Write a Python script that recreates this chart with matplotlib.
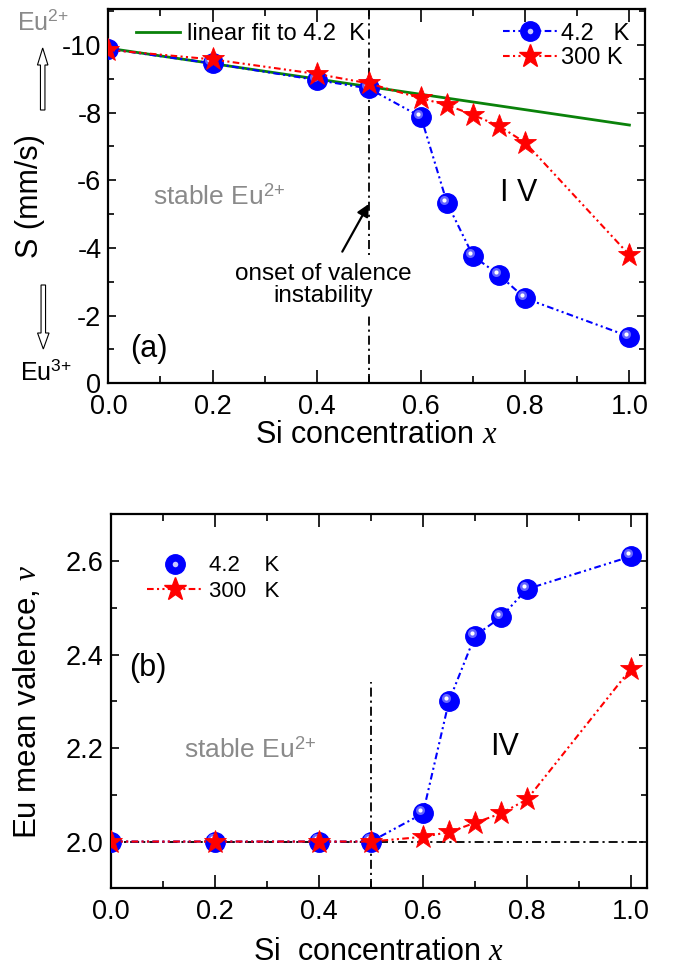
import numpy as np
import matplotlib
matplotlib.use("Agg")
import matplotlib.pyplot as plt
from matplotlib.lines import Line2D
from matplotlib.patches import FancyArrow
from matplotlib.transforms import offset_copy
from matplotlib.legend_handler import HandlerTuple
from matplotlib.ticker import MultipleLocator

plt.rcParams['font.family'] = ['Liberation Sans', 'DejaVu Sans']
plt.rcParams['mathtext.fontset'] = 'custom'
plt.rcParams['mathtext.rm'] = 'Liberation Sans'
plt.rcParams['mathtext.it'] = 'Liberation Serif:italic'
plt.rcParams['axes.unicode_minus'] = False

# Si concentration
x_si = [0.0, 0.2, 0.4, 0.5, 0.6, 0.65, 0.7, 0.75, 0.8, 1.0]

# isomer shift S (mm/s)
shift_4k = [-9.88, -9.45, -8.96, -8.71, -7.87, -5.33, -3.76, -3.20, -2.51, -1.38]
shift_300k = [-9.85, -9.57, -9.14, -8.86, -8.42, -8.22, -7.93, -7.60, -7.11, -3.79]
fit_x = [0.0, 1.0]
fit_shift = [-9.90, -7.63]

# Eu mean valence
val_4k = [2.0, 2.0, 2.0, 2.0, 2.06, 2.30, 2.44, 2.48, 2.54, 2.61]
val_300k = [2.0, 2.0, 2.0, 2.0, 2.01, 2.02, 2.04, 2.06, 2.09, 2.37]

x_onset = 0.5
val_stable = 2.0

blue = '#0000ff'
red = '#ff0000'
green = '#0a820a'
grey = '#8a8a8a'
dd_dash = (3.2, 1.6, 1.0, 1.6, 1.0, 1.6)
ref_dash = (5, 2.2, 1.2, 2.2)

eu2 = r'Eu$^{2{+}}$'
eu3 = r'Eu$^{3{+}}$'

fig = plt.figure(figsize=(6.8, 9.67), dpi=100)
ax1 = fig.add_axes([0.1593, 0.6036, 0.7893, 0.3868])
ax2 = fig.add_axes([0.1628, 0.0814, 0.7882, 0.3868])


def style_axes(ax):
    for s in ax.spines.values():
        s.set_linewidth(1.6)
    ax.tick_params(which='both', direction='in', top=True, right=True,
                   labelsize=19.5, width=1.2)
    ax.tick_params(axis='x', which='major', length=9.5, pad=8)
    ax.tick_params(axis='x', which='minor', length=5)
    ax.tick_params(axis='y', which='major', length=5.5, pad=5)
    ax.tick_params(axis='y', which='minor', length=4)
    ax.xaxis.set_major_locator(MultipleLocator(0.2))
    ax.xaxis.set_minor_locator(MultipleLocator(0.1))
    ax.set_xlim(0, 1.03)


def spheres(ax, x, y):
    ln, = ax.plot(x, y, color=blue, lw=1.5, dashes=dd_dash, marker='o',
                  ms=14, mfc=blue, mec=blue, zorder=3)
    tr = offset_copy(ax.transData, fig=fig, x=-2.2, y=2.2, units='points')
    ax.plot(x, y, ls='none', marker='o', ms=6.5, mfc='#7f7fff', mec='none',
            alpha=0.8, transform=tr, zorder=3.1)
    ax.plot(x, y, ls='none', marker='o', ms=3, mfc='white', mec='none',
            transform=tr, zorder=3.2)
    return ln


def stars(ax, x, y):
    ln, = ax.plot(x, y, color=red, lw=1.5, dashes=dd_dash, marker='*',
                  ms=17, mfc=red, mec=red, mew=0.6, zorder=4)
    return ln


def sphere_handle(with_line):
    if with_line:
        body = Line2D([], [], color=blue, lw=1.5, dashes=dd_dash,
                      marker='o', ms=14, mfc=blue, mec=blue)
    else:
        body = Line2D([], [], ls='none', marker='o', ms=14, mfc=blue, mec=blue)
    shine = Line2D([], [], ls='none', marker='o', ms=4, mfc='#c8c8ff', mec='none')
    return (body, shine)


# ---------- panel (a): isomer shift ----------
style_axes(ax1)
ax1.axvline(x_onset, color='black', lw=1.3, dashes=ref_dash, zorder=1)
fit_line, = ax1.plot(fit_x, fit_shift, color=green, lw=2, zorder=2)
spheres(ax1, x_si, shift_4k)
stars(ax1, x_si, shift_300k)

ax1.set_ylim(0, -11.05)
ax1.yaxis.set_major_locator(MultipleLocator(2))
ax1.yaxis.set_minor_locator(MultipleLocator(1))
ax1.set_ylabel('S (mm/s)', fontsize=22)
ax1.yaxis.set_label_coords(-0.118, 0.5)
ax1.set_xlabel(r'Si concentration $x$', fontsize=22)
ax1.xaxis.set_label_coords(0.5, -0.098)

h_red = Line2D([], [], color=red, lw=1.5, dashes=dd_dash, marker='*', ms=17, mfc=red, mec=red)

leg_fit = ax1.legend([fit_line], ['linear fit to 4.2  K'], loc='upper left',
                     bbox_to_anchor=(0.052, 0.962), frameon=False, fontsize=17,
                     handlelength=1.85, handletextpad=0.3, borderpad=0, borderaxespad=0)
ax1.add_artist(leg_fit)
ax1.legend([sphere_handle(True), h_red], ['4.2   K', '300 K'], loc='upper right',
           bbox_to_anchor=(0.97, 0.964), frameon=False, fontsize=17,
           handlelength=2.3, handletextpad=0.15, labelspacing=0.1,
           borderpad=0, borderaxespad=0,
           handler_map={tuple: HandlerTuple(ndivide=1)})

ax1.text(0.086, -5.27, 'stable ' + eu2, color=grey, fontsize=19, va='baseline', ha='left')
ax1.text(0.787, -5.62, 'I V', fontsize=22, ha='center', va='center')
ax1.text(0.042, -1.02, '(a)', fontsize=22, ha='left', va='center')
ax1.text(0.412, -2.9, 'onset of valence\ninstability', fontsize=17.5, ha='center',
         va='center', linespacing=1.0, zorder=5,
         bbox=dict(facecolor='white', edgecolor='none', pad=6))
ax1.annotate('', xy=(0.5, -5.3), xytext=(0.449, -3.89),
             arrowprops=dict(arrowstyle='-|>', color='black', lw=1.6,
                             mutation_scale=18, shrinkA=0, shrinkB=0), zorder=6)

# ---------- panel (b): mean valence ----------
style_axes(ax2)
ax2.set_ylim(1.9, 2.7)
ax2.axhline(val_stable, color='black', lw=1.3, dashes=ref_dash, zorder=1)
ax2.axvline(x_onset, ymax=0.551, color='black', lw=1.3, dashes=ref_dash, zorder=1)
spheres(ax2, x_si, val_4k)
stars(ax2, x_si, val_300k)

ax2.yaxis.set_major_locator(MultipleLocator(0.2))
ax2.yaxis.set_minor_locator(MultipleLocator(0.1))
ax2.set_ylabel(r'Eu mean valence, $\nu$', fontsize=22.5)
ax2.yaxis.set_label_coords(-0.126, 0.5)
ax2.set_xlabel(r'Si  concentration $x$', fontsize=22)
ax2.xaxis.set_label_coords(0.5, -0.13)

ax2.legend([sphere_handle(False), h_red], ['4.2    K', '300   K'], loc='upper left',
           bbox_to_anchor=(0.068, 0.89), frameon=False, fontsize=16,
           handlelength=2.5, handletextpad=0.3, labelspacing=0.2,
           borderpad=0, borderaxespad=0,
           handler_map={tuple: HandlerTuple(ndivide=1)})

ax2.text(0.035, 2.372, '(b)', fontsize=22, ha='left', va='center')
ax2.text(0.14, 2.18, 'stable ' + eu2, color=grey, fontsize=19, va='baseline', ha='left')
ax2.text(0.757, 2.2025, 'IV', fontsize=22, ha='center', va='center')

# valence direction markers on the left margin
fig.text(0.025, 0.977, eu2, color=grey, fontsize=18, va='center', ha='left')
fig.text(0.03, 0.615, eu3, color='black', fontsize=18, va='center', ha='left')
fig.add_artist(FancyArrow(0.427, 8.57, 0, 0.62, width=0.045, head_width=0.105,
                          head_length=0.17, length_includes_head=True,
                          facecolor='white', edgecolor='black', lw=0.8,
                          transform=fig.dpi_scale_trans))
fig.add_artist(FancyArrow(0.433, 6.82, 0, -0.64, width=0.045, head_width=0.115,
                          head_length=0.16, length_includes_head=True,
                          facecolor='white', edgecolor='black', lw=0.8,
                          transform=fig.dpi_scale_trans))

fig.savefig('out.png', dpi=100)
